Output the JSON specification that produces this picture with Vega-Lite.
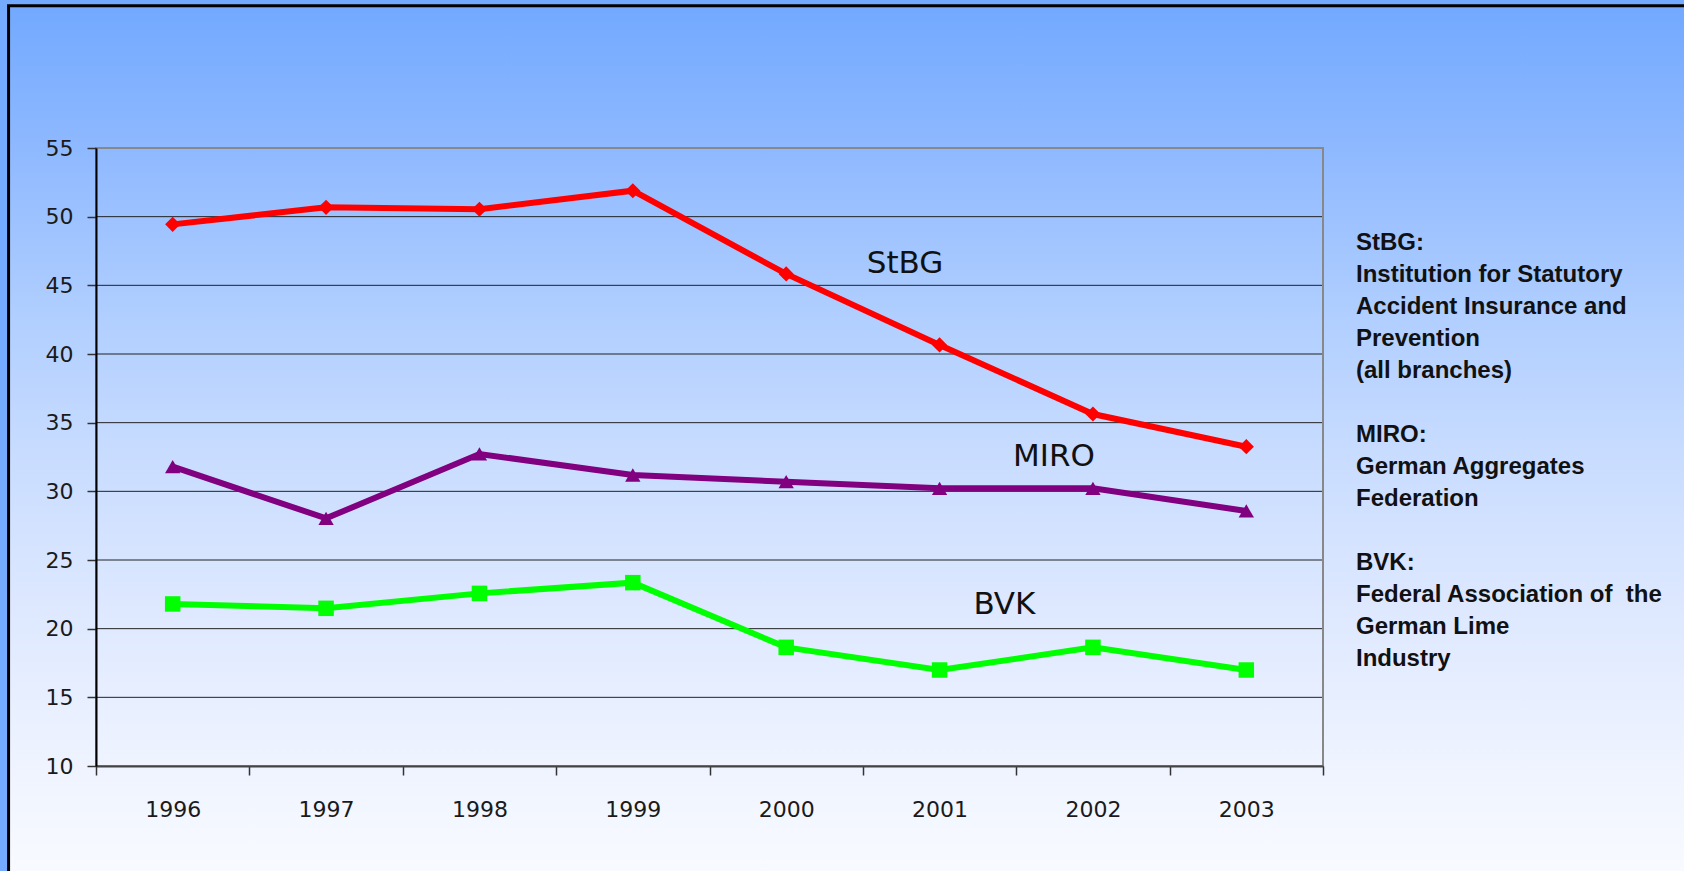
{
  "$schema": "https://vega.github.io/schema/vega-lite/v6.json",
  "width": 1227,
  "height": 618,
  "autosize": {"type": "none"},
  "padding": {"left": 96, "top": 148, "right": 361, "bottom": 105},
  "background": "#74aaff",
  "config": {"view": {"stroke": null}, "font": "DejaVu Sans"},
  "datasets": {
    "series": [
      {"year": 1996, "org": "StBG", "value": 49.44},
      {"year": 1997, "org": "StBG", "value": 50.68},
      {"year": 1998, "org": "StBG", "value": 50.54},
      {"year": 1999, "org": "StBG", "value": 51.89},
      {"year": 2000, "org": "StBG", "value": 45.83},
      {"year": 2001, "org": "StBG", "value": 40.66},
      {"year": 2002, "org": "StBG", "value": 35.63},
      {"year": 2003, "org": "StBG", "value": 33.25},
      {"year": 1996, "org": "MIRO", "value": 31.8},
      {"year": 1997, "org": "MIRO", "value": 28.03},
      {"year": 1998, "org": "MIRO", "value": 32.72},
      {"year": 1999, "org": "MIRO", "value": 31.19},
      {"year": 2000, "org": "MIRO", "value": 30.7},
      {"year": 2001, "org": "MIRO", "value": 30.22},
      {"year": 2002, "org": "MIRO", "value": 30.22},
      {"year": 2003, "org": "MIRO", "value": 28.57},
      {"year": 1996, "org": "BVK", "value": 21.8},
      {"year": 1997, "org": "BVK", "value": 21.48},
      {"year": 1998, "org": "BVK", "value": 22.57},
      {"year": 1999, "org": "BVK", "value": 23.35},
      {"year": 2000, "org": "BVK", "value": 18.64},
      {"year": 2001, "org": "BVK", "value": 16.99},
      {"year": 2002, "org": "BVK", "value": 18.64},
      {"year": 2003, "org": "BVK", "value": 16.99}
    ],
    "grid": [
      {"v": 15}, {"v": 20}, {"v": 25}, {"v": 30}, {"v": 35}, {"v": 40}, {"v": 45}, {"v": 50}
    ]
  },
  "layer": [
    {
      "data": {"values": [{}]},
      "mark": {
        "type": "rect",
        "clip": false,
        "stroke": "#000000",
        "strokeWidth": 3,
        "fill": {
          "gradient": "linear",
          "x1": 0, "y1": 0, "x2": 0, "y2": 1,
          "stops": [
            {"offset": 0, "color": "#72a9ff"},
            {"offset": 0.165, "color": "#8fb9ff"},
            {"offset": 0.34, "color": "#aecdff"},
            {"offset": 0.51, "color": "#c8dcff"},
            {"offset": 0.68, "color": "#dde8ff"},
            {"offset": 0.86, "color": "#eef3ff"},
            {"offset": 1, "color": "#f9fbff"}
          ]
        }
      },
      "encoding": {
        "x": {
          "datum": 1994.93,
          "type": "quantitative",
          "scale": {"domain": [1995.5, 2003.5], "nice": false, "zero": false},
          "axis": {
            "orient": "bottom",
            "title": null,
            "values": [1995.5, 1996.5, 1997.5, 1998.5, 1999.5, 2000.5, 2001.5, 2002.5, 2003.5],
            "labels": false,
            "ticks": true,
            "tickSize": 9,
            "tickColor": "#333333",
            "tickWidth": 1.5,
            "domain": true,
            "domainColor": "#444444",
            "domainWidth": 2,
            "grid": false,
            "zindex": 1
          }
        },
        "x2": {"datum": 2006},
        "y": {
          "datum": 65.36,
          "type": "quantitative",
          "scale": {"domain": [10, 55], "nice": false, "zero": false},
          "axis": {
            "orient": "left",
            "title": null,
            "values": [10, 15, 20, 25, 30, 35, 40, 45, 50, 55],
            "tickSize": 9,
            "tickColor": "#333333",
            "tickWidth": 1.5,
            "domain": true,
            "domainColor": "#000000",
            "domainWidth": 2,
            "grid": false,
            "labelFont": "DejaVu Sans",
            "labelFontSize": 22,
            "labelColor": "#1a1a1a",
            "labelPadding": 14,
            "zindex": 1
          }
        },
        "y2": {"datum": 1.5}
      }
    },
    {
      "data": {"name": "grid"},
      "mark": {"type": "rule", "color": "#222222", "strokeWidth": 1},
      "encoding": {
        "x": {"datum": 1995.5, "type": "quantitative", "axis": null},
        "x2": {"datum": 2003.5},
        "y": {"field": "v", "type": "quantitative", "axis": null}
      }
    },
    {
      "data": {"name": "series"},
      "mark": {"type": "line", "strokeWidth": 6},
      "encoding": {
        "x": {
          "field": "year",
          "type": "quantitative",
          "axis": {
            "orient": "bottom",
            "title": null,
            "values": [1996, 1997, 1998, 1999, 2000, 2001, 2002, 2003],
            "format": "d",
            "ticks": false,
            "tickSize": 0,
            "domain": false,
            "grid": false,
            "labelFont": "DejaVu Sans",
            "labelFontSize": 22,
            "labelColor": "#1a1a1a",
            "labelPadding": 33,
            "zindex": 1
          }
        },
        "y": {"field": "value", "type": "quantitative", "axis": null},
        "color": {
          "field": "org",
          "type": "nominal",
          "scale": {"domain": ["StBG", "MIRO", "BVK"], "range": ["#ff0000", "#800080", "#00ff00"]},
          "legend": null
        }
      }
    },
    {
      "data": {"name": "series"},
      "mark": {"type": "point", "filled": true, "opacity": 1},
      "encoding": {
        "x": {"field": "year", "type": "quantitative", "axis": null},
        "y": {"field": "value", "type": "quantitative", "axis": null},
        "color": {"field": "org", "type": "nominal", "legend": null},
        "shape": {
          "field": "org",
          "type": "nominal",
          "scale": {"domain": ["StBG", "MIRO", "BVK"], "range": ["diamond", "triangle-up", "square"]},
          "legend": null
        },
        "size": {
          "field": "org",
          "type": "nominal",
          "scale": {"domain": ["StBG", "MIRO", "BVK"], "range": [230, 240, 140]},
          "legend": null
        }
      }
    },
    {
      "data": {"values": [{}]},
      "mark": {"type": "rect", "filled": false, "stroke": "#888888", "strokeWidth": 2},
      "encoding": {
        "x": {"datum": 1995.5, "type": "quantitative", "axis": null},
        "x2": {"datum": 2003.5},
        "y": {"datum": 55, "type": "quantitative", "axis": null},
        "y2": {"datum": 10}
      }
    },
    {
      "data": {"values": [{}]},
      "mark": {"type": "text", "font": "DejaVu Sans", "fontSize": 31, "color": "#111111", "align": "center", "baseline": "middle"},
      "encoding": {
        "x": {"datum": 2000.775, "type": "quantitative", "axis": null},
        "y": {"datum": 46.55, "type": "quantitative", "axis": null},
        "text": {"value": "StBG"}
      }
    },
    {
      "data": {"values": [{}]},
      "mark": {"type": "text", "font": "DejaVu Sans", "fontSize": 31, "color": "#111111", "align": "center", "baseline": "middle"},
      "encoding": {
        "x": {"datum": 2001.746, "type": "quantitative", "axis": null},
        "y": {"datum": 32.5, "type": "quantitative", "axis": null},
        "text": {"value": "MIRO"}
      }
    },
    {
      "data": {"values": [{}]},
      "mark": {"type": "text", "font": "DejaVu Sans", "fontSize": 31, "color": "#111111", "align": "center", "baseline": "middle"},
      "encoding": {
        "x": {"datum": 2001.423, "type": "quantitative", "axis": null},
        "y": {"datum": 21.72, "type": "quantitative", "axis": null},
        "text": {"value": "BVK"}
      }
    },
    {
      "data": {"values": [{}]},
      "mark": {"type": "text", "clip": false, "font": "Liberation Sans", "fontWeight": "bold", "fontSize": 24, "color": "#111111", "align": "left", "baseline": "top", "lineBreak": "\n", "lineHeight": 32},
      "encoding": {
        "x": {"datum": 2003.715, "type": "quantitative", "axis": null},
        "y": {"datum": 48.93, "type": "quantitative", "axis": null},
        "text": {"value": "StBG:\nInstitution for Statutory\nAccident Insurance and\nPrevention\n(all branches)"}
      }
    },
    {
      "data": {"values": [{}]},
      "mark": {"type": "text", "clip": false, "font": "Liberation Sans", "fontWeight": "bold", "fontSize": 24, "color": "#111111", "align": "left", "baseline": "top", "lineBreak": "\n", "lineHeight": 32},
      "encoding": {
        "x": {"datum": 2003.715, "type": "quantitative", "axis": null},
        "y": {"datum": 34.97, "type": "quantitative", "axis": null},
        "text": {"value": "MIRO:\nGerman Aggregates\nFederation"}
      }
    },
    {
      "data": {"values": [{}]},
      "mark": {"type": "text", "clip": false, "font": "Liberation Sans", "fontWeight": "bold", "fontSize": 24, "color": "#111111", "align": "left", "baseline": "top", "lineBreak": "\n", "lineHeight": 32},
      "encoding": {
        "x": {"datum": 2003.715, "type": "quantitative", "axis": null},
        "y": {"datum": 25.63, "type": "quantitative", "axis": null},
        "text": {"value": "BVK:\nFederal Association of\u00a0 the\nGerman Lime\nIndustry"}
      }
    }
  ],
  "resolve": {"axis": {"x": "independent", "y": "independent"}}
}
